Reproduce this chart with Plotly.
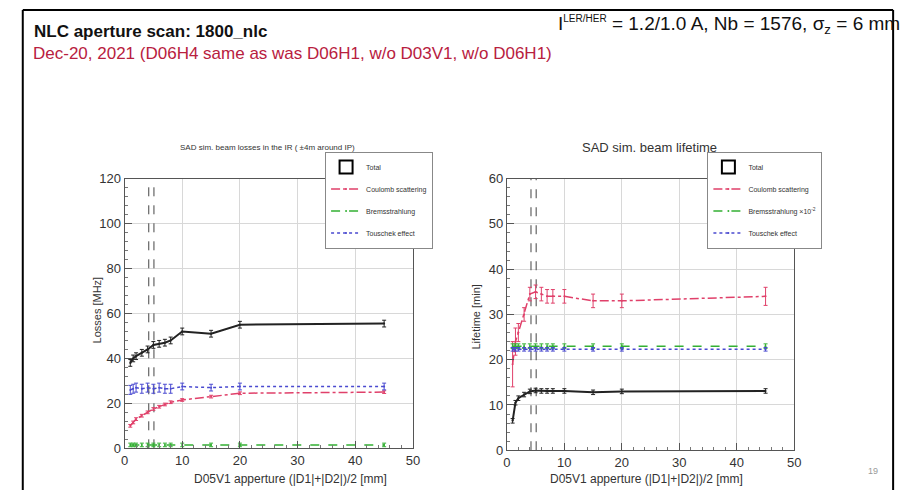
import plotly.graph_objects as go

# ---------------- data ----------------
x_scan = [1, 1.5, 2, 3, 4, 5, 6, 7, 8, 10, 15, 20, 45]

loss_total = [38, 40, 41, 42.5, 44, 46, 46.5, 47, 48, 52, 51, 55, 55.5]
loss_total_err = [1.5] * 13
loss_coulomb = [10, 11.5, 13, 14.5, 16, 17.5, 18.5, 19.5, 20.5, 21.5, 23, 24.5, 25]
loss_coulomb_err = [0.6] * 13
loss_brems = [1.5] * 13
loss_brems_err = [0.8] * 13
loss_touschek = [26, 26.5, 27, 26.5, 27, 26.5, 27, 26.5, 26.5, 27.5, 27, 27.5, 27.5]
loss_touschek_err = [2, 2, 2, 2, 2, 2, 2, 2, 2, 1.5, 1.5, 1.5, 1.5]

life_total = [6.5, 10.5, 11.5, 12.3, 13, 13.2, 13.1, 13.1, 13.1, 13.1, 12.8, 13, 13.1]
life_total_err = [0.5] * 13
life_coulomb = [19, 24, 26, 30, 34.5, 35, 34.5, 34, 34, 34, 33, 33, 34]
life_coulomb_err = [5, 3, 2, 1.5, 1.5, 1.5, 1.5, 1.5, 1.5, 1.5, 1.5, 1.5, 2]
life_brems = [23] * 13
life_brems_err = [0.5] * 13
life_touschek = [22.3] * 13
life_touschek_err = [0.4] * 13

aperture_marks = [4.2, 5.1]

x_ticks = [0, 10, 20, 30, 40, 50]
loss_ticks = [0, 20, 40, 60, 80, 100, 120]
life_ticks = [0, 10, 20, 30, 40, 50, 60]

# ---------------- styling ----------------
W, H = 910, 498
FONT = "Liberation Sans, Arial, sans-serif"
C_TOT = "#222222"
C_COU = "#e0406a"
C_BRE = "#33b033"
C_TOU = "#4a4ad0"


def px(v):
    return v / W


def py(v):
    return 1 - v / H


fig = go.Figure()


def add_series(xa, ya, y, err, color, dash, width, name, legend, show=True, cap=2):
    fig.add_trace(go.Scatter(
        x=x_scan, y=y, mode="lines+markers", name=name,
        line=dict(color=color, dash=dash, width=width),
        marker=dict(size=2, color=color),
        error_y=dict(type="data", array=err, color=color, thickness=1, width=cap),
        xaxis=xa, yaxis=ya, legend=legend, legendgroup=legend + name,
        showlegend=show,
    ))


for xa, ya, leg, tot, tote, cou, coue, bre, bree, tou, toue, bname, ymax in [
    ("x", "y", "legend", loss_total, loss_total_err, loss_coulomb, loss_coulomb_err,
     loss_brems, loss_brems_err, loss_touschek, loss_touschek_err, "Bremsstrahlung", 120),
    ("x2", "y2", "legend2", life_total, life_total_err, life_coulomb, life_coulomb_err,
     life_brems, life_brems_err, life_touschek, life_touschek_err,
     "Bremsstrahlung ×10<sup>-2</sup>", 60),
]:
    # vertical aperture markers
    for m in aperture_marks:
        fig.add_trace(go.Scatter(x=[m, m], y=[0, ymax], mode="lines",
                                 line=dict(color="#444444", dash="dash", width=1),
                                 xaxis=xa, yaxis=ya, showlegend=False, hoverinfo="skip"))
    # legend-only box for Total
    fig.add_trace(go.Scatter(x=[None], y=[None], mode="markers", name="Total",
                             marker=dict(symbol="square-open", size=13, color="black",
                                         line=dict(width=2, color="black")),
                             xaxis=xa, yaxis=ya, legend=leg, legendgroup=leg + "tot"))
    add_series(xa, ya, tot, tote, C_TOT, "solid", 2, "Total", leg, show=False)
    add_series(xa, ya, cou, coue, C_COU, "dashdot", 1.5, "Coulomb scattering", leg)
    add_series(xa, ya, bre, bree, C_BRE, "dash", 1.5, bname, leg)
    add_series(xa, ya, tou, toue, C_TOU, "dot", 1.5, "Touschek effect", leg)

axis_common = dict(
    showline=True, linecolor="#555555", linewidth=1, mirror=True,
    ticks="inside", ticklen=7, tickcolor="#555555",
    showgrid=True, gridcolor="#d8d8d8", gridwidth=1, zeroline=False,
    tickfont=dict(family=FONT, size=13, color="#333333"),
)

legend_common = dict(xanchor="left", yanchor="top",
                     bgcolor="white", bordercolor="#888888", borderwidth=1,
                     font=dict(family=FONT, size=7, color="#333333"),
                     tracegroupgap=3, itemwidth=30)

fig.update_layout(
    width=W, height=H, margin=dict(l=0, r=0, t=0, b=0),
    paper_bgcolor="white", plot_bgcolor="white",
    font=dict(family=FONT, color="#333333"),
    xaxis=dict(domain=[px(122), px(414)], range=[0, 50], tickvals=x_ticks,
               minor=dict(ticks="inside", ticklen=3, dtick=2, tickcolor="#777777", showgrid=False),
               anchor="y", **axis_common),
    yaxis=dict(domain=[py(455), py(177)], range=[0, 120], tickvals=loss_ticks,
               minor=dict(ticks="inside", ticklen=3, dtick=4, tickcolor="#777777", showgrid=False),
               anchor="x", **axis_common),
    xaxis2=dict(domain=[px(509), px(800)], range=[0, 50], tickvals=x_ticks,
                minor=dict(ticks="inside", ticklen=3, dtick=2, tickcolor="#777777", showgrid=False),
                anchor="y2", **axis_common),
    yaxis2=dict(domain=[py(457), py(177)], range=[0, 60], tickvals=life_ticks,
                minor=dict(ticks="inside", ticklen=3, dtick=2, tickcolor="#777777", showgrid=False),
                anchor="x2", **axis_common),
    legend=dict(x=px(325), y=py(149), **legend_common),
    legend2=dict(x=px(712), y=py(149), **legend_common),
)

ann = [
    dict(text="<b>NLC aperture scan: 1800_nlc</b>", x=px(28), y=py(25), xanchor="left",
         yanchor="middle", font=dict(family=FONT, size=17, color="#111111")),
    dict(text="Dec-20, 2021 (D06H4 same as was D06H1, w/o D03V1, w/o D06H1)", x=px(27), y=py(48),
         xanchor="left", yanchor="middle", font=dict(family=FONT, size=17, color="#b8203e")),
    dict(text="I<sup><span style='font-size:10px'>LER/HER</span></sup> = 1.2/1.0 A, Nb = 1576, "
              "σ<sub>z</sub> = 6 mm", x=px(909), y=py(19),
         xanchor="right", yanchor="middle", font=dict(family=FONT, size=19, color="#111111")),
    dict(text="SAD sim. beam losses in the IR ( ±4m around IP)", x=px(267), y=py(145),
         xanchor="center", yanchor="middle", font=dict(family=FONT, size=8, color="#333333")),
    dict(text="SAD sim. beam lifetime", x=px(653), y=py(145),
         xanchor="center", yanchor="middle", font=dict(family=FONT, size=13, color="#333333")),
    dict(text="Losses [MHz]", x=px(94), y=py(312), textangle=-90,
         xanchor="center", yanchor="middle", font=dict(family=FONT, size=11, color="#333333")),
    dict(text="Lifetime [min]", x=px(478), y=py(320), textangle=-90,
         xanchor="center", yanchor="middle", font=dict(family=FONT, size=11, color="#333333")),
    dict(text="D05V1 apperture (|D1|+|D2|)/2 [mm]", x=px(290), y=py(487),
         xanchor="center", yanchor="middle", font=dict(family=FONT, size=12, color="#333333")),
    dict(text="D05V1 apperture (|D1|+|D2|)/2 [mm]", x=px(650), y=py(487),
         xanchor="center", yanchor="middle", font=dict(family=FONT, size=12, color="#333333")),
    dict(text="19", x=px(880), y=py(478), xanchor="center", yanchor="middle",
         font=dict(family=FONT, size=9, color="#999999")),
]
for a in ann:
    a.update(xref="paper", yref="paper", showarrow=False)
fig.update_layout(annotations=ann)

frame = dict(type="line", xref="paper", yref="paper", line=dict(color="black", width=2))
fig.update_layout(shapes=[
    dict(frame, x0=px(19), x1=px(900), y0=py(3), y1=py(3)),
    dict(frame, x0=px(19), x1=px(19), y0=py(3), y1=0),
    dict(frame, x0=px(900), x1=px(900), y0=py(3), y1=0),
])

fig.write_html("out.html")
